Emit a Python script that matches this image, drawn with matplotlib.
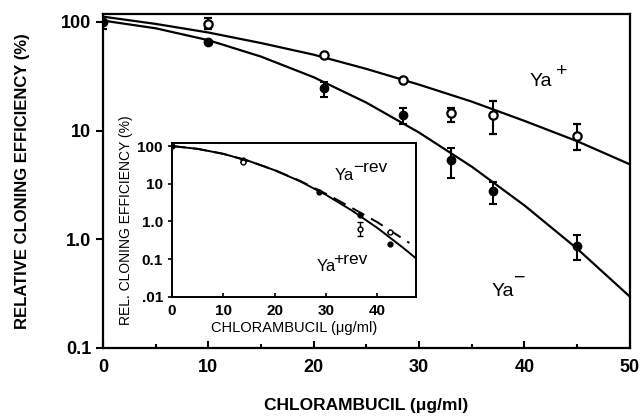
import matplotlib.pyplot as plt
import numpy as np

plt.rcParams['font.family'] = ['Liberation Sans', 'DejaVu Sans']

# main panel data
dose = [0, 10, 21, 28.5, 33, 37, 45]
ya_plus = [100, 96, 49.5, 29, 14.4, 14, 9.0]
ya_plus_lo = [100, 86, 49.5, 29, 12.1, 9.3, 6.7]
ya_plus_hi = [100, 109, 49.5, 29, 16.3, 18.9, 11.4]
ya_minus = [100, 66, 24.5, 13.8, 5.4, 2.78, 0.86]
ya_minus_lo = [86, 66, 20.2, 11.6, 3.7, 2.1, 0.64]
ya_minus_hi = [100, 66, 27.8, 16.3, 6.9, 3.4, 1.1]

# fitted curves
curve_x = [0, 5, 10, 15, 20, 25, 30, 35, 40, 45, 50]
curve_plus = [112, 96, 80, 64, 50, 37, 26.5, 18.5, 12.3, 8.0, 4.9]
curve_minus = [103, 87.5, 68, 48, 31, 18.1, 9.6, 4.66, 2.05, 0.82, 0.297]

# inset data
in_dose_closed = [0, 13.8, 28.7, 36.5, 42.5]
in_closed = [100, 42, 6.0, 1.45, 0.26]
in_dose_open = [13.8, 36.5, 42.5]
in_open = [38, 0.65, 0.51]
in_open_lo = [38, 0.42, 0.51]
in_open_hi = [38, 0.95, 0.51]
in_curve_x = [0, 5, 10, 15, 20, 25, 30, 35, 40, 45, 47.5]
in_curve_plus = [100, 84, 62, 40, 22.8, 11.5, 5.05, 1.96, 0.67, 0.20, 0.105]
in_dash_x = [0, 5, 10, 15, 20, 25, 30, 35, 40, 46.2]
in_curve_minus = [100, 84, 62, 40, 23, 11.8, 5.4, 2.3, 0.95, 0.27]


def strain_label(axis, x, y, sup, size, sup_size, dx, dy):
    # "Ya" with a raised tag after it
    axis.text(x, y, 'Ya', fontsize=size, ha='left', va='baseline')
    axis.annotate(sup, (x, y), xytext=(dx, dy), textcoords='offset points',
                  fontsize=sup_size, ha='left', va='baseline')


fig = plt.figure(figsize=(6.44, 4.17), dpi=100)
ax = fig.add_axes([0.16, 0.1655, 0.818, 0.8005])

lw = 1.6
ax.plot(curve_x, curve_plus, color='black', lw=lw)
ax.plot(curve_x, curve_minus, color='black', lw=lw)

ya_plus = np.array(ya_plus)
ya_minus = np.array(ya_minus)
err_p = [ya_plus - np.array(ya_plus_lo), np.array(ya_plus_hi) - ya_plus]
err_m = [ya_minus - np.array(ya_minus_lo), np.array(ya_minus_hi) - ya_minus]
ax.errorbar(dose, ya_minus, yerr=err_m, fmt='o', color='black', ms=6,
            elinewidth=1.5, capsize=3, capthick=1.5)
ax.errorbar(dose[1:], ya_plus[1:], yerr=[e[1:] for e in err_p], fmt='o',
            color='black', mfc='white', mec='black', mew=1.6, ms=6,
            elinewidth=1.5, capsize=3, capthick=1.5)

ax.set_yscale('log')
ax.set_xlim(0, 50)
ax.set_ylim(0.1, 118)
ax.set_yticks([0.1, 1, 10, 100])
ax.set_yticklabels(['0.1', '1.0', '10', '100'])
ax.yaxis.set_minor_locator(plt.NullLocator())
ax.set_xticks([0, 10, 20, 30, 40, 50])
ax.set_xticks([5, 15, 25, 35, 45], minor=True)
ax.tick_params(axis='x', which='both', direction='in', width=1.5, labelsize=13, pad=8)
ax.tick_params(axis='x', which='major', length=5)
ax.tick_params(axis='x', which='minor', length=3)
ax.tick_params(axis='y', direction='out', length=5, width=1.5, labelsize=13)
for lab in ax.get_xticklabels() + ax.get_yticklabels():
    lab.set_fontweight('bold')
for s in ax.spines.values():
    s.set_linewidth(1.6)

ax.set_xlabel('CHLORAMBUCIL (\u03bcg/ml)', fontsize=12.5, fontweight='bold', labelpad=16)
ax.set_ylabel('RELATIVE CLONING EFFICIENCY (%)', fontsize=12, fontweight='bold', labelpad=22)

strain_label(ax, 40.5, 26, '+', 14, 14, 19, 7)
strain_label(ax, 36.9, 0.30, '\u2212', 14, 14, 16, 10)

# inset
ins = fig.add_axes([0.267, 0.288, 0.379, 0.369])
ins.plot(in_curve_x, in_curve_plus, color='black', lw=1.4)
ins.plot(in_dash_x, in_curve_minus, color='black', lw=1.4, dashes=(7, 4))
ins.plot(in_dose_closed, in_closed, 'o', color='black', ms=3.5)
in_open = np.array(in_open)
in_err = [in_open - np.array(in_open_lo), np.array(in_open_hi) - in_open]
ins.errorbar(in_dose_open, in_open, yerr=in_err, fmt='o', color='black',
             mfc='white', mec='black', mew=1.0, ms=3.5, elinewidth=1.0,
             capsize=2, capthick=1.0)
ins.set_yscale('log')
ins.set_xlim(0, 47.5)
ins.set_ylim(0.01, 120)
ins.set_yticks([0.01, 0.1, 1, 10, 100])
ins.set_yticklabels(['.01', '0.1', '1.0', '10', '100'])
ins.yaxis.set_minor_locator(plt.NullLocator())
ins.set_xticks([0, 10, 20, 30, 40])
ins.tick_params(axis='x', direction='in', length=3, width=1.2, labelsize=11, pad=5)
ins.tick_params(axis='y', direction='out', length=3, width=1.2, labelsize=11)
for lab in ins.get_xticklabels() + ins.get_yticklabels():
    lab.set_fontweight('bold')
for s in ins.spines.values():
    s.set_linewidth(1.4)
ins.set_xlabel('CHLORAMBUCIL (\u03bcg/ml)', fontsize=10.5, labelpad=2)
ins.set_ylabel('REL. CLONING EFFICIENCY (%)', fontsize=10, labelpad=3)
strain_label(ins, 31.6, 12.4, '\u2212rev', 12, 12.5, 13.5, 6)
strain_label(ins, 28.2, 0.049, '+rev', 12, 12.5, 12, 5)

fig.savefig('out.png', dpi=100, facecolor='white')
